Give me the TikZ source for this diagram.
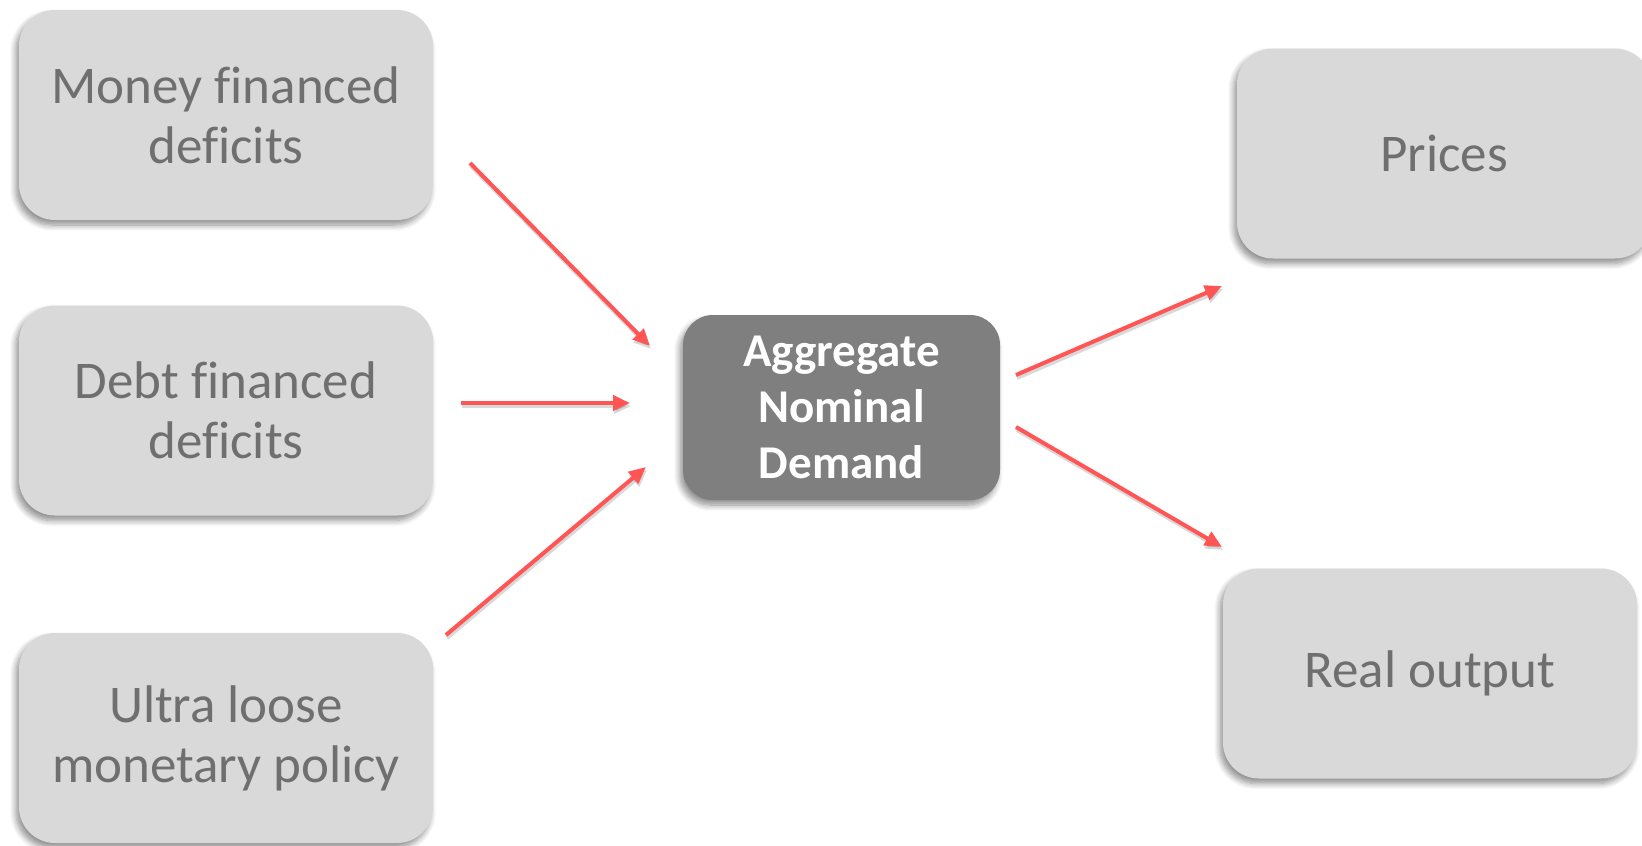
\documentclass[tikz,border=0pt]{standalone}
\usepackage{fontspec}
\setmainfont[Ligatures=NoCommon]{Carlito}
\usetikzlibrary{arrows.meta,shadows.blur}
\definecolor{boxgray}{HTML}{D9D9D9}
\definecolor{boxtext}{HTML}{6F6F6F}
\definecolor{darkbox}{HTML}{7F7F7F}
\definecolor{arrowred}{HTML}{FF5555}
\tikzset{
  graybox/.style={fill=boxgray, rounded corners=36pt, minimum width=414pt, minimum height=210pt,
    text=boxtext, align=center, inner sep=0pt,
    font=\fontsize{53pt}{60pt}\selectfont,
    blur shadow={shadow xshift=-3pt, shadow yshift=-5pt, shadow blur steps=8, shadow blur radius=6pt, shadow opacity=45}},
  centerbox/.style={fill=darkbox, rounded corners=30pt, minimum width=317pt, minimum height=185pt,
    text=white, align=center, inner sep=0pt,
    font=\fontsize{47pt}{56pt}\selectfont\bfseries,
    blur shadow={shadow xshift=-3pt, shadow yshift=-5pt, shadow blur steps=8, shadow blur radius=6pt, shadow opacity=45}},
  redarrow/.style={draw=arrowred, line width=4pt, -{Triangle[length=17pt,width=15pt]},
    preaction={draw=black, opacity=0.15, line width=4pt, transform canvas={shift={(1pt,-3pt)}}}}
}
\begin{document}
\begin{tikzpicture}[x=1pt,y=-1pt]
\useasboundingbox (0,0) rectangle (1642,846);
\node[graybox] (money) at (226,115) {Money financed\\deficits};
\node[graybox] (debt) at (226,410.5) {Debt financed\\deficits};
\node[graybox] (ultra) at (226,738) {Ultra loose\\monetary policy};
\node[graybox] (prices) at (1444,153.5) {Prices};
\node[graybox] (real) at (1430,673.5) {Real output};
\node[centerbox] (and) at (841.5,407.5) {Aggregate\\Nominal\\Demand};
\coordinate (m1) at (470,163);
\coordinate (m2) at (650,346);
\coordinate (d1) at (461,403);
\coordinate (d2) at (630,403);
\coordinate (u1) at (446,635);
\coordinate (u2) at (646,467);
\coordinate (p1) at (1016,375);
\coordinate (p2) at (1222,286);
\coordinate (r1) at (1016,427);
\coordinate (r2) at (1222,547);
\draw[redarrow] (m1) -- (m2);
\draw[redarrow] (d1) -- (d2);
\draw[redarrow] (u1) -- (u2);
\draw[redarrow] (p1) -- (p2);
\draw[redarrow] (r1) -- (r2);
\end{tikzpicture}
\end{document}
